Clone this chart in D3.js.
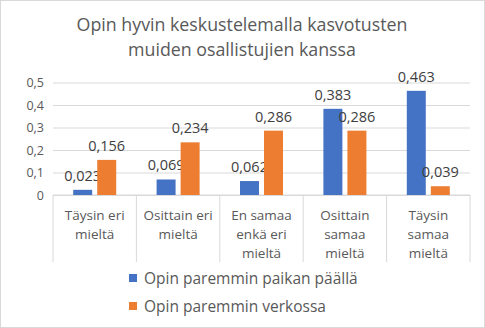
<!DOCTYPE html>
<html><head><meta charset="utf-8">
<script src="https://cdn.jsdelivr.net/npm/d3@7"></script>
<style>body{margin:0;background:#fff}svg{display:block}text{font-family:"Open Sans",sans-serif}</style>
</head><body><svg id="c" width="485" height="328"></svg>
<script>
const categories = [["Täysin eri","mieltä"],["Osittain eri","mieltä"],["En samaa","enkä eri","mieltä"],["Osittain","samaa","mieltä"],["Täysin","samaa","mieltä"]];
const seriesNames = ["Opin paremmin paikan päällä","Opin paremmin verkossa"];
const paikan = [0.023,0.069,0.062,0.383,0.463];
const verkossa = [0.156,0.234,0.286,0.286,0.039];
const yTicks = [0,0.1,0.2,0.3,0.4,0.5];
const colors = ["#4472C4","#ED7D31"];
const titleLines = ["Opin hyvin keskustelemalla kasvotusten","muiden osallistujien kanssa"];

const svg = d3.select("#c");
svg.append("rect").attr("x",0.5).attr("y",0.5).attr("width",484).attr("height",327).attr("fill","#fff").attr("stroke","#D9D9D9");
const L=53,R=470,T=82.5,B=195;
const fmt = v => d3.format(".3f")(v).replace(".",",");
const x0 = d3.scaleBand().domain(d3.range(categories.length)).range([L,R]);
const bw = x0.bandwidth();
const x1 = d3.scaleBand().domain([0,1]).range([(bw-43)/2,(bw+43)/2]).paddingInner(0.21);
const y = d3.scaleLinear().domain([0,0.5]).range([B,T]);

// title
svg.append("text").attr("x",242).attr("text-anchor","middle").attr("fill","#595959").attr("font-size",17.8)
  .selectAll("tspan").data(titleLines).join("tspan").attr("x",242).attr("y",(d,i)=>31+i*24.5).text(d=>d);

// grid
const ya = d3.axisLeft(y).tickValues(yTicks).tickSize(-(R-L)).tickFormat(d=>d===0?"0":d3.format(".1f")(d).replace(".",","));
const gy = svg.append("g").attr("transform",`translate(${L},0)`).call(ya);
gy.select(".domain").remove();
gy.selectAll(".tick line").attr("stroke","#D9D9D9");
gy.selectAll(".tick text").attr("fill","#595959").attr("font-size",12.5).attr("x",-9).style("font-family","'Open Sans',sans-serif");

// x axis
const gx = svg.append("g");
gx.append("line").attr("x1",L).attr("x2",R).attr("y1",B).attr("y2",B).attr("stroke","#D9D9D9");
gx.selectAll(".sep").data(d3.range(categories.length+1)).join("line")
  .attr("x1",i=>i<categories.length?x0(i):R).attr("x2",i=>i<categories.length?x0(i):R)
  .attr("y1",B).attr("y2",262).attr("stroke","#D9D9D9");
categories.forEach((c,i)=>{
  const t=gx.append("text").attr("text-anchor","middle").attr("fill","#595959").attr("font-size",13.5);
  c.forEach((ln,j)=>t.append("tspan").attr("x",x0(i)+bw/2).attr("y",220+j*19).text(ln));
});

const data=[paikan,verkossa];
data.forEach((vals,s)=>{
  svg.selectAll(".b"+s).data(vals).join("rect")
   .attr("x",(d,i)=>x0(i)+x1(s)).attr("width",x1.bandwidth())
   .attr("y",d=>y(d)).attr("height",d=>B-y(d)).attr("fill",colors[s]);
  svg.selectAll(".l"+s).data(vals).join("text")
   .attr("x",(d,i)=>x0(i)+x1(s)+x1.bandwidth()/2).attr("y",d=>y(d)-9)
   .attr("text-anchor","middle").attr("fill","#404040").attr("font-size",14.5).text(fmt);
});

// legend
const lg = svg.append("g");
seriesNames.forEach((n,i)=>{
  lg.append("rect").attr("x",129).attr("y",274+i*28).attr("width",8).attr("height",8).attr("fill",colors[i]);
  lg.append("text").attr("x",144).attr("y",284+i*28).attr("fill","#595959").attr("font-size",15.5).text(n);
});
</script></body></html>
